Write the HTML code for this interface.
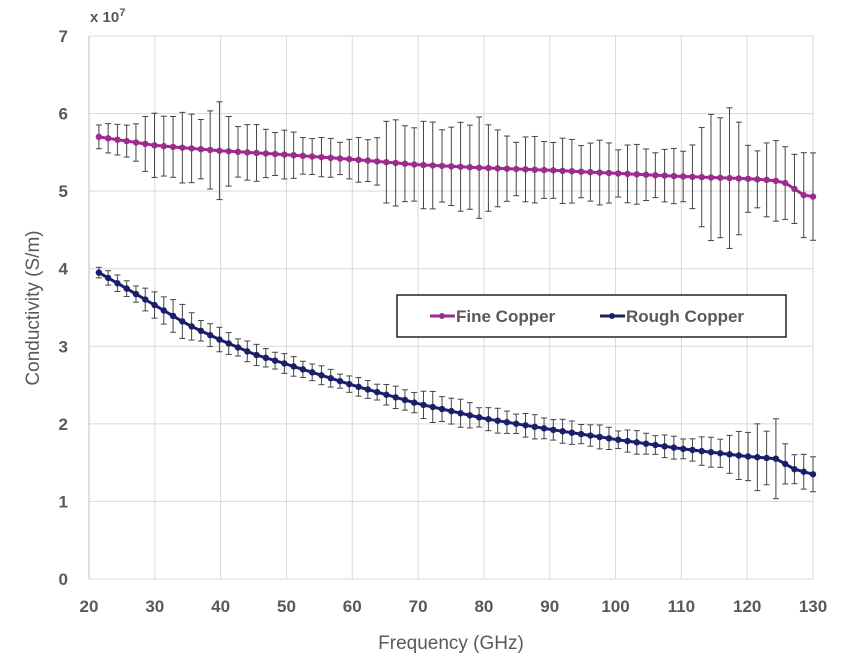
<!DOCTYPE html>
<html><head><meta charset="utf-8"><style>
body{margin:0;background:#fff;}
svg text{font-family:"Liberation Sans",sans-serif;}
</style></head><body>
<svg id="s" width="849" height="661" xmlns="http://www.w3.org/2000/svg">
<rect width="849" height="661" fill="#fff"/>
<g id="grid"></g>
<g id="eb"></g>
<g id="lines"></g>
<text x="90" y="22" font-size="15" font-weight="bold" fill="#595959">x 10<tspan dy="-6" font-size="11">7</tspan></text>
<text transform="translate(39,308) rotate(-90)" text-anchor="middle" font-size="19" fill="#595959">Conductivity (S/m)</text>
<text x="451" y="649" text-anchor="middle" font-size="19" fill="#595959">Frequency (GHz)</text>
<rect x="397" y="295" width="389" height="42" fill="#fff" stroke="#000" stroke-width="1.3"/>
<line x1="430" y1="316" x2="455" y2="316" stroke="#9B2C8E" stroke-width="3"/><circle cx="442" cy="316" r="3" fill="#9B2C8E"/>
<text x="456" y="322" font-size="17" font-weight="bold" fill="#595959">Fine Copper</text>
<line x1="600" y1="316" x2="625" y2="316" stroke="#1B1F6B" stroke-width="3"/><circle cx="612" cy="316" r="3" fill="#1B1F6B"/>
<text x="626" y="322" font-size="17" font-weight="bold" fill="#595959">Rough Copper</text>
</svg>
<script>
const X=f=>89+(f-20)*724/110, Y=v=>579-v*77.57;
let g='';
for(let i=20;i<=130;i+=10){g+=`<line x1="${X(i)}" y1="36" x2="${X(i)}" y2="579" stroke="#d9d9d9"/>`;
g+=`<text x="${X(i)}" y="612" text-anchor="middle" font-size="17" font-weight="bold" fill="#595959">${i}</text>`;}
for(let v=0;v<=7;v++){g+=`<line x1="89" y1="${Y(v)}" x2="813" y2="${Y(v)}" stroke="#d9d9d9"/>`;
g+=`<text x="68" y="${Y(v)+6}" text-anchor="end" font-size="17" font-weight="bold" fill="#595959">${v}</text>`;}
g+=`<line x1="89" y1="36" x2="89" y2="579" stroke="#bfbfbf"/>`;
document.getElementById('grid').innerHTML=g;
function interp(k,f){for(let i=0;i<k.length-1;i++){if(f<=k[i+1][0]){const t=(f-k[i][0])/(k[i+1][0]-k[i][0]);return k[i][1]+t*(k[i+1][1]-k[i][1]);}}return k[k.length-1][1];}
const fk=[[21.5,5.70],[30,5.59],[40,5.52],[50,5.47],[60,5.41],[70,5.34],[80,5.30],[90,5.27],[100,5.23],[110,5.19],[120,5.16],[124,5.14],[126,5.1],[128.5,4.95],[130,4.93]];
const rk=[[21.5,3.95],[25,3.78],[30,3.53],[35,3.28],[40,3.08],[45,2.9],[50,2.77],[60,2.5],[70,2.26],[80,2.07],[90,1.93],[100,1.8],[110,1.68],[120,1.58],[124.5,1.55],[127,1.42],[130,1.35]];
const fe=[[21.5,.18],[25,.17],[28,.3],[31,.4],[36,.4],[38,.45],[39.5,.58],[41,.43],[44,.33],[48,.3],[55,.22],[63,.26],[65,.48],[70,.5],[78,.5],[79.5,.8],[81,.45],[85,.38],[100,.36],[108,.3],[111,.35],[113,.55],[115,.8],[116.5,.9],[118,.85],[119.5,.4],[124,.45],[130,.5]];
const re=[[21.5,.08],[26,.1],[30,.15],[33,.22],[36,.15],[45,.12],[60,.1],[70,.14],[72,.18],[80,.14],[110,.13],[115,.18],[120,.3],[121,.25],[122,.7],[123,.3],[124,.45],[125,.45],[126,.2],[130,.2]];
let eb='',L='';
const N=78,pts=[];
for(let i=0;i<N;i++)pts.push(21.5+i*(108.5/(N-1)));
function ser(k,ek,col){let d='',c='';pts.forEach((f,i)=>{const v=interp(k,f),e=interp(ek,f)*(0.85+0.3*Math.abs(Math.sin(i*2.3)));const x=X(f);
eb+=`<line x1="${x}" y1="${Y(v+e)}" x2="${x}" y2="${Y(v-e)}" stroke="#444" stroke-width="1"/><line x1="${x-3}" y1="${Y(v+e)}" x2="${x+3}" y2="${Y(v+e)}" stroke="#444"/><line x1="${x-3}" y1="${Y(v-e)}" x2="${x+3}" y2="${Y(v-e)}" stroke="#444"/>`;
d+=(i?'L':'M')+x.toFixed(1)+','+Y(v).toFixed(1);c+=`<circle cx="${x}" cy="${Y(v)}" r="3.2" fill="${col}"/>`;});
L+=`<path d="${d}" fill="none" stroke="${col}" stroke-width="3"/>`+c;}
ser(fk,fe,'#9B2C8E');ser(rk,re,'#1B1F6B');
document.getElementById('eb').innerHTML=eb;document.getElementById('lines').innerHTML=L;
</script>
</body></html>
